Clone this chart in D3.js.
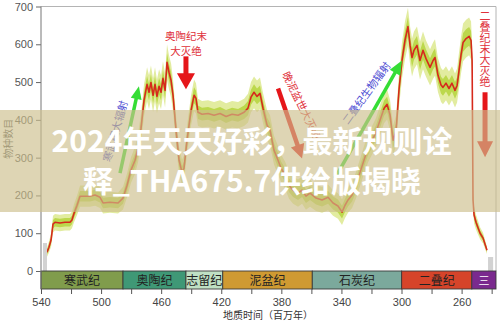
<!DOCTYPE html>
<html><head><meta charset="utf-8">
<script src="https://cdn.jsdelivr.net/npm/d3@7"></script>
<style>
html,body{margin:0;padding:0;background:#fff;}
svg{display:block;font-family:"Noto Sans CJK SC","Noto Sans",sans-serif;}
</style></head><body>
<svg id="chart" width="500" height="322"></svg>
<script>
// Marine family diversity through the Paleozoic (age in Ma, count of families)
const ages = [536,534.7,533.3,532,530.7,527.4,524,520.7,519.4,518,516,514,510.7,507.4,504,500.7,498.7,494.1,488.7,485.4,
  482.7,480.1,477.4,475.4,473.4,471.4,469.4,468.1,466.8,465.4,464.1,462.8,461.4,460.1,458.8,457.4,456.1,454.8,453.4,452.1,
  450.1,448.1,446.1,444.8,442.8,440.1,438.1,436.8,435.5,432.8,428.8,424.8,420.8,416.8,412.8,408.8,404.8,402.2,400.2,398.2,
  396.2,394.2,392.2,389.5,387.5,384.9,382.2,380.2,377.5,374.9,372.2,368.9,366.2,363.6,360.9,356.9,352.9,348.9,345.6,342.3,
  339.6,337.6,335.6,332.9,330.3,327.6,325,322.3,319.6,317,314.3,311.6,309.6,307.6,305.6,303.6,301.7,299.7,297.7,295.7,
  294.3,293,291.7,289.7,287.7,285.7,283.7,281,279,277.7,275.7,273.7,272.4,270.4,268.4,266.4,264.4,263,261.7,260.4,
  259,257,255,253.7,253,252.4,251.7,250.4,249,247.7,245.7,244.4,243.1];
const counts = [50,63,82,124,129,127,129,129,135,153,174,198,198,198,201,195,180,182,180,193,
  227,267,293,325,378,452,494,473,499,465,494,462,489,473,510,478,552,526,504,465,
  372,293,261,272,346,425,465,457,420,415,417,412,417,409,415,412,420,431,460,473,
  462,470,431,386,372,320,293,272,254,227,214,206,214,198,206,193,188,195,180,172,
  156,174,188,201,227,261,293,325,346,367,399,431,441,412,346,372,478,557,610,647,
  597,565,584,597,557,584,562,539,557,565,518,492,486,497,483,497,478,491,531,571,
  605,615,621,610,557,188,148,129,114,100,87,71,55];
// Half-widths of the outer and inner uncertainty envelopes
const outerSpread = [12,15,18,22,22,22,22,22,22,24,26,28,28,28,28,28,28,28,28,30,
  32,34,36,38,40,42,45,45,45,45,45,45,45,45,45,45,48,45,45,42,
  40,36,34,34,38,40,42,40,36,35,35,35,35,35,35,35,36,38,40,42,
  42,42,40,40,40,38,38,36,36,36,36,36,36,36,36,34,34,34,34,34,
  34,34,34,34,35,36,37,38,38,38,40,40,40,40,40,40,45,48,50,50,
  50,50,50,50,50,50,48,48,48,48,45,45,45,45,45,45,45,45,48,48,
  50,50,50,50,40,25,22,20,18,16,14,12,10];
const innerSpread = [6,8,9,11,11,11,11,11,11,12,13,14,14,14,14,14,14,14,14,15,
  16,17,18,19,20,21,22,22,22,22,22,22,22,22,22,22,24,22,22,21,
  20,18,17,17,19,20,21,20,18,17,17,17,17,17,17,17,18,19,20,21,
  21,21,20,20,20,19,19,18,18,18,18,18,18,18,18,17,17,17,17,17,
  17,17,17,17,17,18,18,19,19,19,20,20,20,20,20,20,22,24,25,25,
  25,25,25,25,25,25,24,24,24,24,22,22,22,22,22,22,22,22,24,24,
  25,25,25,25,20,12,11,10,9,8,7,6,5];
// Poorly constrained intervals at either end: [from Ma, to Ma, count]
const greyBars = [[538.7, 536, 74], [242.4, 239, 37]];

const yTicks = [0, 100, 200, 300, 400, 500, 600, 700];
const xTicks = [540, 520, 500, 480, 460, 440, 420, 400, 380, 360, 340, 320, 300, 280, 260, 240];
const xTickLabels = [540, 500, 460, 420, 380, 340, 300, 260];
const periodNames = ["寒武纪", "奥陶纪", "志留纪", "泥盆纪", "石炭纪", "二叠纪", "三"];
const periodBounds = [540, 485.4, 443.5, 419, 359.4, 299.9, 253.2, 237.1];
const titleLines = ["2024年天天好彩，最新规则诠", "释_THA675.7供给版揭晓"];

const periodColors = ["#809c4c", "#3f9876", "#bfe0c4", "#cf9a32", "#7ba99c", "#d6442a", "#7a2a8e"];
const periodText = ["#222", "#222", "#222", "#222", "#222", "#222", "#fff"];

const svg = d3.select("#chart");
const x = d3.scaleLinear().domain([540, 237.1]).range([41, 496]);
const y = d3.scaleLinear().domain([0, 700]).range([271, 6.5]);

svg.append("rect").attr("width", 500).attr("height", 322).attr("fill", "#fff");

// plot frame
svg.append("path").attr("d", `M${x(540)},${y(700)}H${x(237.1)}V${y(0)}`)
  .attr("fill", "none").attr("stroke", "#b4b4b4").attr("stroke-width", 1);

const pts = ages.map((a, i) => ({a, v: counts[i], o: outerSpread[i], n: innerSpread[i]}));

const outerArea = d3.area().x(d => x(d.a)).y0(d => y(Math.max(0, d.v - d.o))).y1(d => y(d.v + d.o));
const innerArea = d3.area().x(d => x(d.a)).y0(d => y(Math.max(0, d.v - d.n))).y1(d => y(d.v + d.n));
const line = d3.line().x(d => x(d.a)).y(d => y(d.v));

svg.append("path").datum(pts).attr("d", outerArea).attr("fill", "#e2eca0");
svg.append("path").datum(pts).attr("d", innerArea).attr("fill", "#bcd84c");
svg.append("path").datum(pts).attr("d", line).attr("fill", "none")
  .attr("stroke", "#d62a1c").attr("stroke-width", 1.6).attr("stroke-linejoin", "round");

svg.selectAll("rect.grey").data(greyBars).join("rect").attr("class", "grey")
  .attr("x", d => x(d[0])).attr("width", d => x(d[1]) - x(d[0]))
  .attr("y", d => y(d[2])).attr("height", d => y(0) - y(d[2]))
  .attr("fill", "#d2d2d2");

// arrows in data space
function arrow(from, to, color, w, headW, headL) {
  const x0 = x(from[0]), y0 = y(from[1]), x1 = x(to[0]), y1 = y(to[1]);
  const len = Math.hypot(x1 - x0, y1 - y0);
  const ux = (x1 - x0) / len, uy = (y1 - y0) / len;
  const bx = x1 - ux * headL, by = y1 - uy * headL;
  svg.append("line").attr("x1", x0).attr("y1", y0).attr("x2", bx + ux).attr("y2", by + uy)
    .attr("stroke", color).attr("stroke-width", w);
  svg.append("path")
    .attr("d", `M${x1},${y1}L${bx - uy * headW / 2},${by + ux * headW / 2}L${bx + uy * headW / 2},${by - ux * headW / 2}Z`)
    .attr("fill", color);
}
arrow([487.4, 259], [474.8, 489], "#35dd35", 3.5, 11, 13);
arrow([443.5, 568], [443.5, 481], "#e5161a", 5, 18, 16);
arrow([382.2, 483], [366.2, 298], "#e5161a", 4.5, 14, 14);
arrow([344.3, 246], [299.7, 557], "#35dd35", 3.5, 12, 14);
arrow([244.4, 473], [244.4, 301], "#e5161a", 5, 16, 16);

function rotText(t, a, v, angle, color) {
  svg.append("text").attr("transform", `translate(${x(a)},${y(v)}) rotate(${angle})`)
    .attr("text-anchor", "middle").attr("dy", "0.35em")
    .attr("font-size", 10.5).attr("fill", color).text(t);
}
rotText("寒武纪大辐射", 490.4, 370, -74, "#4b4bd2");
rotText("晚泥盆世大灭绝", 366.6, 438, 64, "#e0303a");
rotText("二叠纪生物辐射", 323.3, 471, -54, "#4b4bd2");

// end-Ordovician label, two lines
[["奥陶纪末", 612], ["大灭绝", 571]].forEach(([t, v]) => {
  svg.append("text").attr("x", x(443.5)).attr("y", y(v)).attr("text-anchor", "middle")
    .attr("font-size", 10.5).attr("fill", "#e0303a").text(t);
});

// vertical label for the end-Permian extinction
svg.append("text").attr("x", x(244.4)).attr("y", 10)
  .style("writing-mode", "vertical-rl").attr("text-anchor", "start")
  .attr("font-size", 11).attr("fill", "#e0303a").text("二叠纪末大灭绝");

// geologic period strip
const strip = svg.append("g");
periodNames.forEach((n, i) => {
  const x0 = x(periodBounds[i]), x1 = x(periodBounds[i + 1]);
  strip.append("rect").attr("x", x0).attr("y", y(0)).attr("width", x1 - x0).attr("height", 18)
    .attr("fill", periodColors[i]).attr("stroke", "#3a3a3a").attr("stroke-width", 0.9);
  strip.append("text").attr("x", (x0 + x1) / 2).attr("y", y(0) + 13.5)
    .attr("text-anchor", "middle").attr("font-size", i === 6 ? 11 : 12)
    .attr("fill", periodText[i]).text(n);
});

// y axis
const yAxis = svg.append("g").attr("transform", `translate(${x(540)},0)`)
  .call(d3.axisLeft(y).tickValues(yTicks).tickSize(5).tickPadding(3));
yAxis.select(".domain").remove();
yAxis.selectAll("line").attr("stroke", "#666");
yAxis.selectAll("text").attr("font-size", 11).attr("fill", "#555").attr("font-family", "Liberation Sans, Arial, sans-serif");
svg.append("line").attr("x1", x(540)).attr("x2", x(540)).attr("y1", y(700)).attr("y2", y(0) + 18)
  .attr("stroke", "#777").attr("stroke-width", 1);

// x axis under the strip
const xAxis = svg.append("g").attr("transform", `translate(0,${y(0) + 18})`)
  .call(d3.axisBottom(x).tickValues(xTicks).tickSize(5).tickPadding(4)
    .tickFormat(d => xTickLabels.includes(d) ? d : ""));
xAxis.select(".domain").remove();
xAxis.selectAll("line").attr("stroke", "#555");
xAxis.selectAll("text").attr("font-size", 11).attr("fill", "#444").attr("font-family", "Liberation Sans, Arial, sans-serif");

svg.append("text").attr("x", 268).attr("y", 319).attr("text-anchor", "middle")
  .attr("font-size", 10).attr("fill", "#333").text("地质时间（百万年）");
svg.append("text").attr("transform", `translate(12,${(y(0) + y(700)) / 2}) rotate(-90)`)
  .attr("text-anchor", "middle").attr("font-size", 10).attr("fill", "#555").text("物种数目");

// banner with headline
svg.append("rect").attr("x", 0).attr("y", 110).attr("width", 500).attr("height", 102)
  .attr("fill", "rgb(205,190,140)").attr("opacity", 0.65);
titleLines.forEach((t, i) => {
  svg.append("text").attr("x", 252).attr("y", 152 + i * 40).attr("text-anchor", "middle")
    .attr("font-size", 30).attr("font-weight", 700).attr("fill", "#fff").text(t);
});
</script>
</body></html>
